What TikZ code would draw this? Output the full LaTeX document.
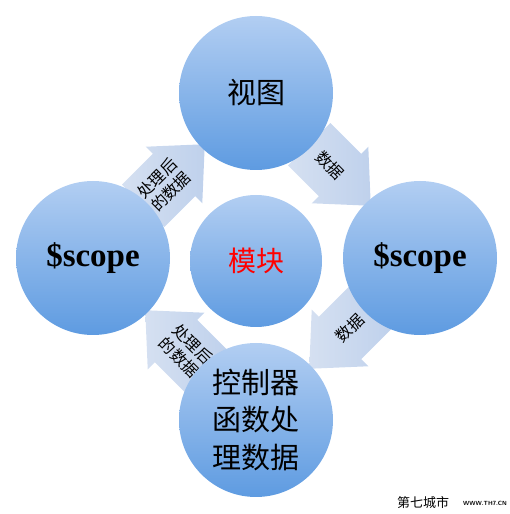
\documentclass[tikz,border=0pt]{standalone}
\usepackage{fontspec}
\newfontfamily\cjk{Noto Sans CJK SC}
\newfontfamily\scopefont{Liberation Serif}
\usetikzlibrary{calc}
\definecolor{circtop}{HTML}{B2CEF2}
\definecolor{circbot}{HTML}{5E9BE1}
\definecolor{arrA}{HTML}{D5E0F1}
\definecolor{arrB}{HTML}{BFD1EC}
\tikzset{
  stage/.style={circle, minimum size=154pt, inner sep=0pt, top color=circtop, bottom color=circbot, draw=none, align=center, text=black},
  hub/.style={stage, minimum size=132pt},
  blockarrow/.pic={\path[left color=arrA, right color=arrB] (-43.5,-30) -- (0,-30) -- (0,-40) -- (43.5,0) -- (0,40) -- (0,30) -- (-43.5,30) -- cycle;},
  arrowtext/.style={font=\cjk\fontsize{16}{19}\selectfont, align=center, inner sep=0pt},
  bigcjk/.style={font=\cjk\fontsize{29}{37.5}\selectfont},
  scopetext/.style={font=\scopefont\bfseries\fontsize{33}{36}\selectfont}
}
\begin{document}
\begin{tikzpicture}[x=1pt,y=1pt]
\useasboundingbox (0,0) rectangle (509,514);
% block arrows (behind circles)
\coordinate (aTL) at (174,339);
\coordinate (aTR) at (340,339);
\coordinate (aBR) at (340,176);
\coordinate (aBL) at (176,173);
\pic[rotate=45] (pTL) at (aTL) {blockarrow};
\pic[rotate=-45] (pTR) at (aTR) {blockarrow};
\pic[rotate=-135] (pBR) at (aBR) {blockarrow};
\pic[rotate=135] (pBL) at (aBL) {blockarrow};
\node[arrowtext, rotate=45] (tTL) at ([shift={(45:-14)}]aTL) {处理后\\的数据};
\node[arrowtext, rotate=-45] (tTR) at ([shift={(-45:-14)}]aTR) {数据};
\node[arrowtext, rotate=45] (tBR) at ([shift={(-135:-14)}]aBR) {数据};
\node[arrowtext, rotate=-45] (tBL) at ([shift={(135:-14)}]aBL) {处理后\\的数据};
% circles
\node[stage, bigcjk] (view) at (256,421) {视图};
\node[stage, scopetext] (lscope) at (93,256) {\$scope};
\node[stage, scopetext] (rscope) at (420,256) {\$scope};
\node[stage, bigcjk] (ctrl) at (256,94) {控制器\\函数处\\理数据};
\node[hub, font=\cjk\fontsize{28}{30}\selectfont, text=red] (mod) at (256,253) {模块};
% watermark
\node[font=\cjk\fontsize{13}{13}\selectfont, inner sep=0pt] (wm) at (423,11) {第七城市};
\node[font=\sffamily\bfseries\fontsize{6}{6}\selectfont, inner sep=0pt] (wmurl) at (485,11) {WWW.TH7.CN};
\end{tikzpicture}
\end{document}
